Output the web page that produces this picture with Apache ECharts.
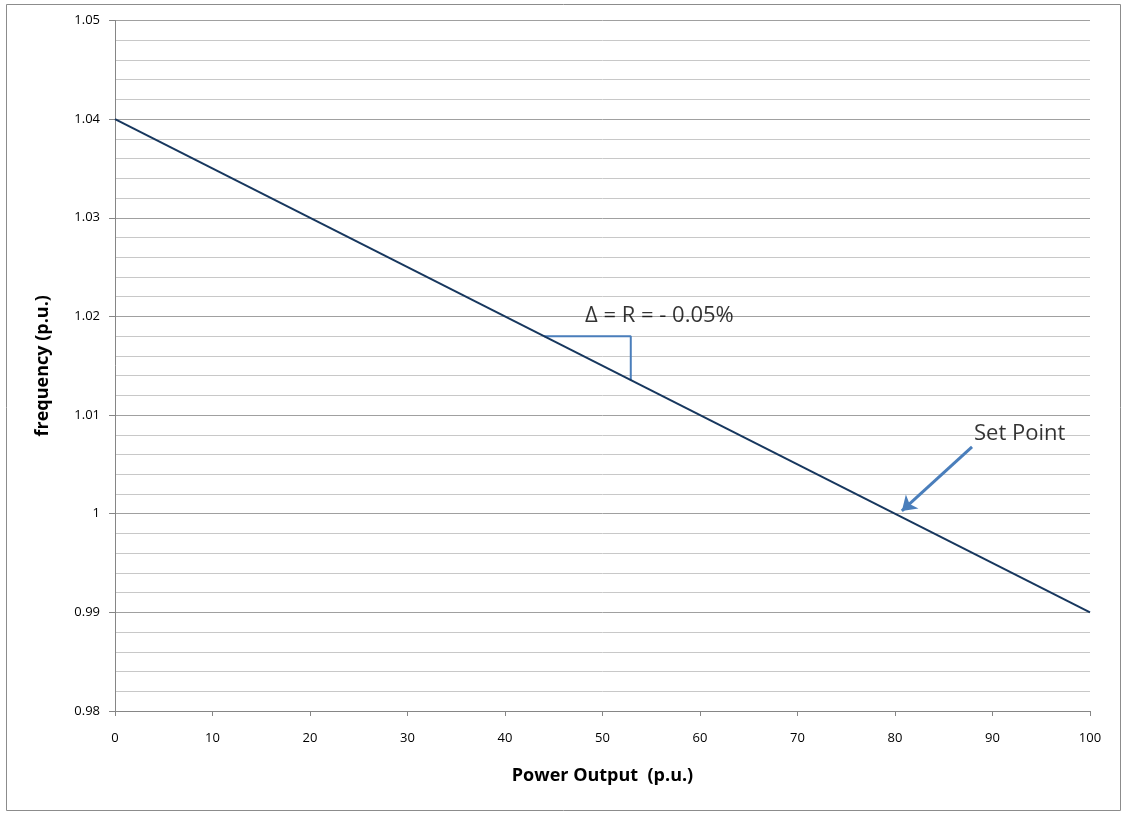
<!DOCTYPE html>
<html>
<head>
<meta charset="utf-8">
<script src="https://cdn.jsdelivr.net/npm/echarts@6/dist/echarts.min.js"></script>
<style>html,body{margin:0;padding:0;background:#fff;}#c{width:1123px;height:813px;}</style>
</head>
<body>
<div id="c"></div>
<script>
// Data
const droopX = [0, 100];
const droopY = [1.04, 0.99];
const triangleX = [44, 52.9, 52.9];
const triangleY = [1.018, 1.018, 1.01354];
const arrowFrom = [87.9, 1.00677];
const arrowTo = [80.7, 1.00028];
const deltaLabel = 'Δ = R = - 0.05%';
const deltaLabelPos = [48.2, 1.0201];
const setPointLabel = 'Set Point';
const setPointLabelPos = [88.1, 1.0081];
const xTitle = 'Power Output  (p.u.)';
const yTitle = 'frequency (p.u.)';

const font = '"Open Sans", "Liberation Sans", sans-serif';
const chart = echarts.init(document.getElementById('c'), null, {renderer: 'canvas'});
const zip = (a, b) => a.map((v, i) => [v, b[i]]);

chart.setOption({
  animation: false,
  backgroundColor: '#fff',
  grid: {left: 115, right: 33, top: 20.5, bottom: 102, containLabel: false},
  xAxis: {
    type: 'value', min: 0, max: 100, interval: 10,
    name: xTitle, nameLocation: 'middle', nameGap: 56,
    nameTextStyle: {fontFamily: font, fontWeight: 'bold', fontSize: 18, color: '#000'},
    axisLine: {show: true, lineStyle: {color: '#868686', width: 1}},
    axisTick: {show: true, length: 5, inside: false, lineStyle: {color: '#868686'}},
    axisLabel: {fontFamily: font, fontSize: 13, color: '#000', margin: 21},
    splitLine: {show: false}
  },
  yAxis: {
    type: 'value', min: 0.98, max: 1.05, interval: 0.01,
    name: yTitle, nameLocation: 'middle', nameGap: 63, nameRotate: 90,
    nameTextStyle: {fontFamily: font, fontWeight: 'bold', fontSize: 18, color: '#000'},
    axisLine: {show: true, lineStyle: {color: '#868686', width: 1}},
    axisTick: {show: true, length: 6, lineStyle: {color: '#868686'}},
    axisLabel: {fontFamily: font, fontSize: 13, color: '#000', margin: 15,
      formatter: v => (+v.toFixed(2)).toString()},
    splitLine: {show: true, lineStyle: {color: '#a0a0a0', width: 1}},
    minorTick: {show: false, splitNumber: 5},
    minorSplitLine: {show: true, lineStyle: {color: '#c8c8c8', width: 1}}
  },
  graphic: [{
    type: 'rect', silent: true, z: -1,
    shape: {x: 6.5, y: 4.5, width: 1114, height: 806},
    style: {fill: 'none', stroke: '#8c8c8c', lineWidth: 1}
  }],
  series: [
    {
      type: 'line', data: zip(droopX, droopY), symbol: 'none', z: 5,
      lineStyle: {color: '#17375e', width: 2}
    },
    {
      type: 'line', data: zip(triangleX, triangleY), symbol: 'none', z: 4,
      lineStyle: {color: '#4a7ebb', width: 2}
    },
    {
      type: 'lines', coordinateSystem: 'cartesian2d', z: 6,
      symbol: ['none', 'arrow'], symbolSize: [0, 14],
      lineStyle: {color: '#4a7ebb', width: 3, opacity: 1},
      data: [{coords: [arrowFrom, arrowTo]}]
    },
    {
      type: 'scatter', symbolSize: 0, z: 7, silent: true,
      data: [
        {value: deltaLabelPos, label: {formatter: deltaLabel}},
        {value: setPointLabelPos, label: {formatter: setPointLabel}}
      ],
      label: {show: true, position: 'inside', align: 'left', verticalAlign: 'middle',
        fontFamily: font, fontSize: 22, color: '#000', textBorderWidth: 0}
    }
  ]
});
</script>
</body>
</html>
